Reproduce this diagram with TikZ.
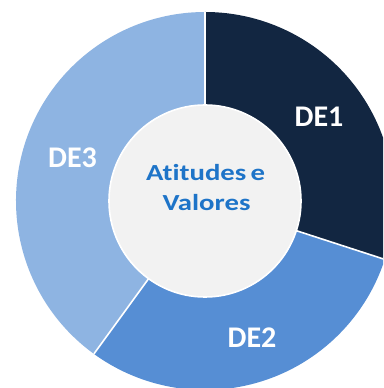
\documentclass[tikz,border=0pt]{standalone}
\usepackage{fontspec}
\setmainfont{Carlito}
\newfontfamily\hubfont[Ligatures=NoCommon]{Carlito}
\definecolor{deone}{RGB}{18,38,65}
\definecolor{detwo}{RGB}{86,142,212}
\definecolor{dethree}{RGB}{142,180,226}
\definecolor{hubfill}{RGB}{242,242,242}
\definecolor{hubtext}{RGB}{30,116,200}
\tikzset{
  seg/.style={draw=white, line width=1.6pt, line join=round},
  lbl/.style={text=white, font=\bfseries\fontsize{30}{34}\selectfont, anchor=base, inner sep=0pt},
  hubtxt/.style={text=hubtext, font=\hubfont\bfseries\fontsize{23}{26}\selectfont, anchor=base, inner sep=0pt}
}
\begin{document}
\begin{tikzpicture}[x=1pt,y=1pt]
\clip (0,0) rectangle (383,388);
\useasboundingbox (0,0) rectangle (383,388);
\fill[white] (0,0) rectangle (383,388);
\coordinate (c) at (205,187);
\def\Ro{189}
\def\Ri{96}
% segments
\fill[deone] ([shift={(90:\Ro)}]c) arc[start angle=90,end angle=-18,radius=\Ro] -- ([shift={(-18:\Ri)}]c) arc[start angle=-18,end angle=90,radius=\Ri] -- cycle;
\fill[detwo] ([shift={(-18:\Ro)}]c) arc[start angle=-18,end angle=-126,radius=\Ro] -- ([shift={(-126:\Ri)}]c) arc[start angle=-126,end angle=-18,radius=\Ri] -- cycle;
\fill[dethree] ([shift={(-126:\Ro)}]c) arc[start angle=-126,end angle=-270,radius=\Ro] -- ([shift={(90:\Ri)}]c) arc[start angle=90,end angle=234,radius=\Ri] -- cycle;
% separators
\draw[seg] ([shift={(90:\Ri)}]c) -- ([shift={(90:\Ro)}]c);
\draw[seg] ([shift={(-18:\Ri)}]c) -- ([shift={(-18:\Ro)}]c);
\draw[seg] ([shift={(-126:\Ri)}]c) -- ([shift={(-126:\Ro)}]c);
% hub
\node[circle, fill=hubfill, draw=white, line width=1.6pt, minimum size=192pt, inner sep=0pt] (hub) at (c) {};
\node[hubtxt] (t1) at (205.5,207) {\scalebox{1.25}[1]{Atitudes\hspace{-0.08em} e}};
\node[hubtxt] (t2) at (206.5,177) {\scalebox{1.25}[1]{Valores}};
% labels
\node[lbl] (de1) at (319,261) {DE1};
\node[lbl] (de2) at (252,40) {DE2};
\node[lbl] (de3) at (72.5,220) {DE3};
\end{tikzpicture}
\end{document}
